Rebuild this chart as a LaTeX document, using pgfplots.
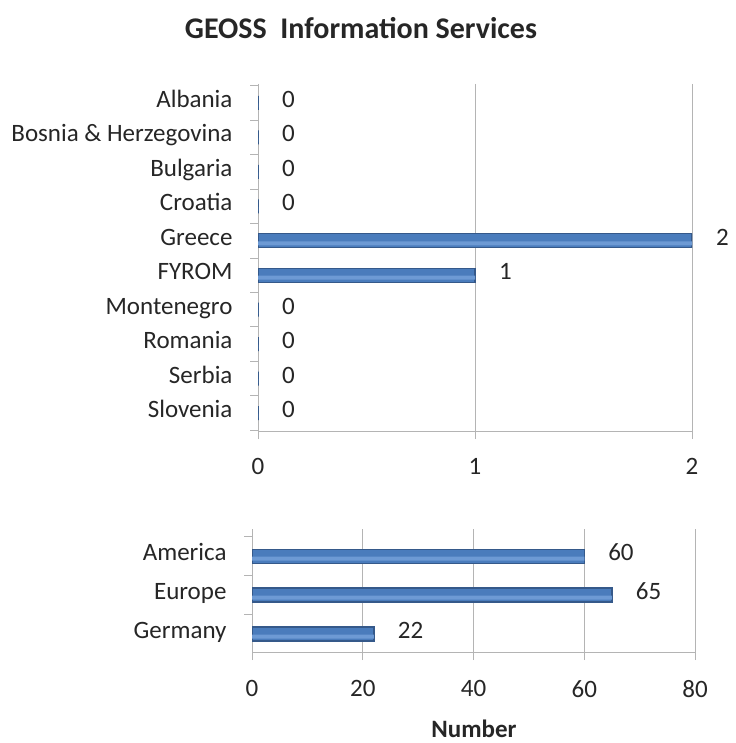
\documentclass[border=0pt]{standalone}
\usepackage{pgfplots}
\pgfplotsset{compat=1.18}
\usepackage{pgfplotstable}
\usepackage{fontspec}
\setmainfont{Carlito}
\definecolor{barfill}{HTML}{4A7CBC}
\definecolor{bartop}{HTML}{6D9AD4}
\definecolor{barline}{HTML}{35598A}
\definecolor{gridc}{HTML}{B4B4B4}
\definecolor{txt}{HTML}{262626}

% position in the list, number of services
\pgfplotstableread{
pos value
0 0
1 0
2 0
3 0
4 2
5 1
6 0
7 0
8 0
9 0
}\balkan
\pgfplotstableread{
pos value
0 60
1 65
2 22
}\regions

\pgfplotsset{
  panel/.style={
    scale only axis,
    xbar, bar width=14pt,
    y dir=reverse,
    axis x line*=bottom, axis y line*=left,
    axis line style={gridc, line width=1pt},
    xmajorgrids, grid style={gridc, line width=1pt},
    major tick length=8pt,
    x tick style={gridc, line width=1pt},
    y tick style={draw=none},
    tick align=outside,
    extra y tick labels={},
    extra y tick style={y tick style={draw=gridc, line width=1pt}, grid=none},
    ytick={0,...,9},
    yticklabel style={xshift=-14pt, anchor=east, text height=13pt, text depth=4pt, text=txt},
    xticklabel style={text=txt},
    /pgf/number format/assume math mode=true,
    point meta=x,
  },
  bars/.style={fill=barfill, draw=barline, line width=1.4pt, bar shift=0pt,
    nodes near coords,
    every node near coord/.append style={anchor=west, xshift=20pt, text=txt, text height=13pt, text depth=4pt}},
  shine/.style={fill=bartop, draw=none, bar width=4pt, bar shift=-2.5pt, forget plot},
}

\begin{document}
\begin{tikzpicture}[font=\fontsize{25}{29}\selectfont]
\path (0pt,0pt) rectangle (735pt,743pt);

\node[font=\fontsize{30}{34}\selectfont\bfseries, text=txt] at (361pt,715pt) {GEOSS\ \ Information Services};

\begin{axis}[
  panel,
  at={(258pt,312pt)}, anchor=south west,
  width=434pt, height=347pt,
  xmin=0, xmax=2, xtick={0,1,2},
  xticklabel style={yshift=-16pt},
  ymin=-0.55, ymax=9.52,
  yticklabels={Albania, Bosnia \& Herzegovina, Bulgaria, Croatia, Greece, FYROM, Montenegro, Romania, Serbia, Slovenia},
  extra y ticks={-0.5,0.5,...,9.5},
]
\addplot[bars] table[x=value, y=pos] {\balkan};
\addplot[shine] table[x=value, y=pos] {\balkan};
\end{axis}

\begin{axis}[
  panel,
  at={(252pt,91pt)}, anchor=south west,
  width=443pt, height=123pt,
  xmin=0, xmax=80, xtick={0,20,40,60,80},
  xticklabel style={yshift=-17pt},
  ymin=-0.7, ymax=2.46,
  ytick={0,1,2},
  yticklabels={America, Europe, Germany},
  extra y ticks={-0.5,0.5,1.5},
]
\addplot[bars] table[x=value, y=pos] {\regions};
\addplot[shine] table[x=value, y=pos] {\regions};
\end{axis}

\node[font=\fontsize{25}{29}\selectfont\bfseries, text=txt, anchor=south] at (474pt,2pt) {Number};
\end{tikzpicture}
\end{document}
